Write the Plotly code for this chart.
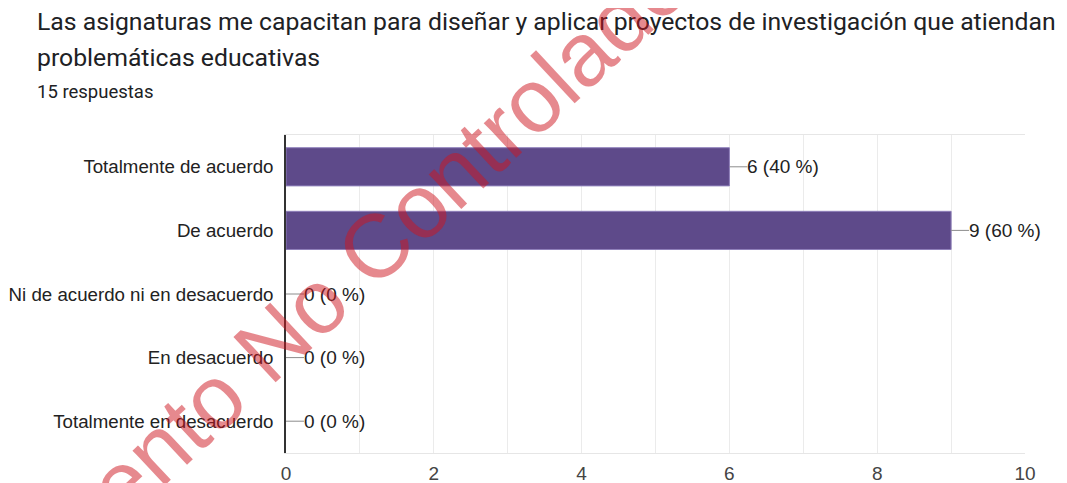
import plotly.graph_objects as go

categories = ["Totalmente de acuerdo", "De acuerdo", "Ni de acuerdo ni en desacuerdo",
              "En desacuerdo", "Totalmente en desacuerdo"]
counts = [6, 9, 0, 0, 0]
percents = [40, 60, 0, 0, 0]
x_ticks = [0, 2, 4, 6, 8, 10]
title_line1 = "Las asignaturas me capacitan para diseñar y aplicar proyectos de investigación que atiendan"
title_line2 = "problemáticas educativas"
subtitle = "15 respuestas"
watermark = "Documento No Controlado"

# page body has an 8px margin -> figure is drawn 8px smaller and offset
OFF = 8
W, H = 1067 - OFF, 483 - OFF
PL, PR, PT, PB = 286, 1025, 135, 453          # plot area in screenshot pixels
L, T = PL - OFF, PT - OFF
R, B = W - (PR - OFF), H - (PB - OFF)
pw, ph = PR - PL, PB - PT

def px(xpix):
    return (xpix - PL) / pw

def py(ypix):
    return (PB - ypix) / ph

fig = go.Figure()
fig.add_trace(go.Bar(
    x=counts, y=categories, orientation="h", width=0.6,
    marker=dict(color="#5e4a8a",
                line=dict(color="#8e7fba", width=[1 if c > 0 else 0 for c in counts])),
    hoverinfo="skip", showlegend=False,
))

shapes = []
annotations = []
for i, (c, p) in enumerate(zip(counts, percents)):
    shapes.append(dict(type="line", xref="x", yref="y", xsizemode="pixel", xanchor=c,
                       x0=0, x1=18, y0=i, y1=i, line=dict(color="#8c8c8c", width=1)))
    annotations.append(dict(x=c, y=categories[i], xref="x", yref="y", text=f"{c} ({p} %)",
                            showarrow=False, xanchor="left", yanchor="middle", xshift=16,
                            font=dict(family="Liberation Sans, Arial", size=19, color="#222222")))

annotations += [
    dict(x=px(35), y=py(22), xref="paper", yref="paper", text=title_line1, showarrow=False,
         xanchor="left", yanchor="middle", font=dict(family="Roboto", size=24.75, color="#202124")),
    dict(x=px(35), y=py(58), xref="paper", yref="paper", text=title_line2, showarrow=False,
         xanchor="left", yanchor="middle", font=dict(family="Roboto", size=24.75, color="#202124")),
    dict(x=px(35), y=py(92), xref="paper", yref="paper", text=subtitle, showarrow=False,
         xanchor="left", yanchor="middle", font=dict(family="Roboto", size=18.5, color="#202124")),
    dict(x=px(284), y=py(332), xref="paper", yref="paper", text=watermark, showarrow=False,
         xanchor="center", yanchor="middle", textangle=-43,
         font=dict(family="Liberation Sans, Arial", size=90, color="rgba(205,20,30,0.5)")),
]

fig.update_layout(
    width=W, height=H,
    margin=dict(l=L, r=R, t=T, b=B, pad=0, autoexpand=False),
    paper_bgcolor="white", plot_bgcolor="white",
    shapes=shapes, annotations=annotations,
    xaxis=dict(range=[0, 10], tickvals=x_ticks, ticktext=[str(v) for v in x_ticks],
               showgrid=True, gridcolor="#ebebeb", gridwidth=1,
               minor=dict(dtick=1, tick0=0, showgrid=True, gridcolor="#ebebeb"),
               showline=True, linecolor="#e6e6e6", mirror=True, zeroline=False,
               ticks="", ticklabelstandoff=3, automargin=False,
               tickfont=dict(family="Liberation Sans, Arial", size=19, color="#444444"),
               fixedrange=True),
    yaxis=dict(categoryorder="array", categoryarray=categories, autorange="reversed",
               showline=True, linecolor="#333333", linewidth=1.5, showgrid=False,
               ticks="", ticklabelstandoff=7, automargin=False,
               tickfont=dict(family="Liberation Sans, Arial", size=18.7, color="#222222"),
               fixedrange=True),
)

fig.write_html("out.html", config={"displayModeBar": False})
